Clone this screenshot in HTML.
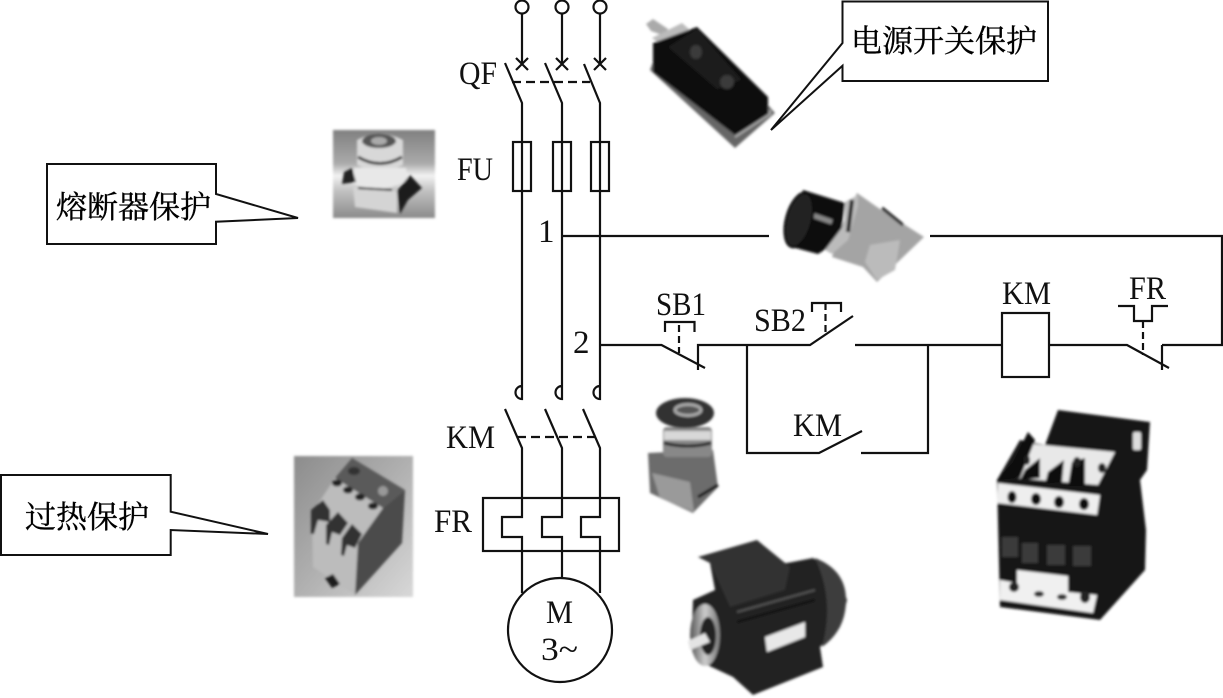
<!DOCTYPE html>
<html><head><meta charset="utf-8"><title>电动机保护电路</title>
<style>
html,body{margin:0;padding:0;background:#fff}
svg{display:block}
text{fill:#111}
.t{font-family:"Liberation Serif",serif;font-size:33px}
.c{font-family:"Liberation Serif","Noto Serif CJK SC",serif;font-size:31px;fill:#000;stroke:#000;stroke-width:.35}
.l{fill:none;stroke:#111;stroke-width:2.2}
.d{fill:none;stroke:#111;stroke-width:2.2;stroke-dasharray:9 5}
.w{fill:#fff;stroke:#111;stroke-width:2.2}
</style></head><body>
<svg width="1223" height="698" viewBox="0 0 1223 698" xmlns="http://www.w3.org/2000/svg">
<defs>
<filter id="b" x="-10%" y="-10%" width="120%" height="120%"><feGaussianBlur stdDeviation="1.2"/></filter>
<linearGradient id="fg" x1="0" y1="0" x2="0" y2="1"><stop offset="0" stop-color="#808080"/><stop offset=".38" stop-color="#aaa"/><stop offset=".52" stop-color="#f2f2f2"/><stop offset=".68" stop-color="#c4c4c4"/><stop offset="1" stop-color="#8a8a8a"/></linearGradient>
<linearGradient id="rg" x1="0" y1="0" x2="1" y2="1"><stop offset="0" stop-color="#8c8c8c"/><stop offset=".5" stop-color="#b0b0b0"/><stop offset="1" stop-color="#d8d8d8"/></linearGradient>
<linearGradient id="cg" x1="0" y1="0" x2="1" y2="0"><stop offset="0" stop-color="#555"/><stop offset=".5" stop-color="#ccc"/><stop offset="1" stop-color="#777"/></linearGradient>
</defs>

<!-- photos -->
<!-- switch -->
<g filter="url(#b)">
<path d="M646 24L653 19L668 29L665 36L651 31Z" fill="#aaa"/>
<path d="M652 38L682 23L690 30L660 44Z" fill="#bbb"/>
<path d="M650 70L735 148L775 113L768 105L735 125L653 62Z" fill="#666"/>
<path d="M653 43L697 27L768 97L768 115L735 135L653 72Z" fill="#111"/>
<path d="M667 47L717 90L743 80L697 28Z" fill="#1f1f1f" stroke="#000"/>
<ellipse cx="696" cy="52" rx="6" ry="7" fill="#3a3a3a"/>
<ellipse cx="727" cy="82" rx="7" ry="7" fill="#3a3a3a"/>
<path d="M735 137L770 114L770 110" fill="none" stroke="#aaa" stroke-width="2"/>
</g>
<!-- fuse -->
<g>
<rect x="333" y="130" width="102" height="88" fill="url(#fg)" filter="url(#b)"/>
<g filter="url(#b)">
<path d="M357 140Q380 128 403 140L403 165Q380 178 357 165Z" fill="#d8d8d8"/>
<ellipse cx="379" cy="141" rx="17" ry="7" fill="#555"/>
<ellipse cx="379" cy="141" rx="8" ry="4" fill="#aaa"/>
<path d="M358 157Q380 170 402 157" stroke="#333" stroke-width="3" fill="none"/>
<path d="M354 168L406 168L408 180Q380 195 354 184Z" fill="#e8e8e8"/>
<path d="M353 186L397 191L397 213L355 207Z" fill="#d4d4d4"/>
<path d="M397 191L410 175L422 188L408 200L400 214Z" fill="#1c1c1c"/>
<path d="M344 172L352 168L356 182L342 184Z" fill="#222"/>
<path d="M358 188L392 190" stroke="#222" stroke-width="2"/>
</g></g>
<!-- rotary button -->
<g filter="url(#b)">
<path d="M857 193L877 207L924 237L900 260L877 282L863 267L832 257L843 223Z" fill="#a4a4a4"/>
<path d="M870 245L900 240L895 270L877 280L865 262Z" fill="#bbb"/>
<path d="M882 208L903 225" stroke="#111" stroke-width="3"/>
<path d="M803 190L845 203L840 240L818 254L788 246Z" fill="#111"/>
<path d="M812 215L832 222" stroke="#888" stroke-width="5"/>
<path d="M845 202L858 195L858 206L848 240L832 254L825 250L844 225Z" fill="#bbb"/>
<path d="M852 200L848 232" stroke="#222" stroke-width="4"/>
<ellipse cx="799" cy="220" rx="13" ry="28" transform="rotate(15 799 220)" fill="#222" stroke="#000" stroke-width="2"/>
</g>
<!-- e-stop -->
<g filter="url(#b)">
<path d="M648 453L713 450L718 487L693 513L650 493Z" fill="#6c6c6c"/>
<path d="M652 473L690 482L694 512L660 498Z" fill="#9a9a9a"/>
<path d="M698 497L718 485" stroke="#111" stroke-width="3"/>
<rect x="663" y="427" width="49" height="30" rx="4" fill="#888"/>
<rect x="664" y="431" width="47" height="9" fill="#d8d8d8"/>
<path d="M664 443Q688 449 711 443" stroke="#222" stroke-width="3" fill="none"/>
<ellipse cx="685" cy="413" rx="29" ry="15" fill="#333"/>
<ellipse cx="688" cy="410" rx="13" ry="5.500" fill="#555" stroke="#aaa" stroke-width="3"/>
</g>
<!-- contactor -->
<g filter="url(#b)">
<path d="M1058 410L1150 422L1147 470L1140 480L1146 530L1145 570L1100 620L1000 607L997 480L1020 440L1045 445Z" fill="#161616"/>
<path d="M1023 443L1115 452L1098 485L1015 478Z" fill="#e8e8e8"/>
<path d="M998 483L1100 495L1097 515L997 503Z" fill="#eee"/>
<ellipse cx="1012" cy="497" rx="4.500" ry="6" fill="#111"/><ellipse cx="1036" cy="499" rx="5" ry="6" fill="#111"/><ellipse cx="1059" cy="502" rx="5" ry="6" fill="#111"/><ellipse cx="1084" cy="504" rx="5" ry="6" fill="#111"/>
<path d="M997 480L1013 462L1028 432L1035 440L1020 478Z" fill="#111"/>
<path d="M1020 480L1025 470L1040 458L1040 478Z" fill="#111"/><path d="M1045 484L1048 472L1064 460L1062 482Z" fill="#111"/><path d="M1068 486L1072 462L1085 458L1085 486Z" fill="#111"/>
<ellipse cx="1027" cy="460" rx="3" ry="5" fill="#222"/><ellipse cx="1077" cy="462" rx="4" ry="5" fill="#222"/><ellipse cx="1102" cy="468" rx="4" ry="5" fill="#222"/>
<rect x="1002" y="537" width="16" height="20" fill="#3a3a3a"/><rect x="1022" y="543" width="16" height="20" fill="#3a3a3a"/><rect x="1047" y="545" width="18" height="20" fill="#3a3a3a"/><rect x="1073" y="546" width="18" height="20" fill="#3a3a3a"/>
<path d="M1000 580L1017 583L1017 570L1068 576L1068 592L1097 595L1093 613L1000 600Z" fill="#f0f0f0"/>
<ellipse cx="1014" cy="587" rx="5" ry="5" fill="#222"/><ellipse cx="1039" cy="594" rx="5" ry="3" fill="#333"/><ellipse cx="1062" cy="597" rx="5" ry="3" fill="#333"/><ellipse cx="1085" cy="597" rx="5" ry="6" fill="#222"/>
<rect x="1133" y="432" width="8" height="18" rx="2" fill="#ddd"/>
</g>
<!-- relay -->
<g>
<rect x="294" y="456" width="119" height="141" fill="url(#rg)" filter="url(#b)"/>
<g filter="url(#b)">
<path d="M312 513L335 478L383 508L358 543L355 595L313 567Z" fill="#bcbcbc"/>
<path d="M352 458L405 490L383 508L335 478Z" fill="#5a5a5a"/>
<path d="M405 490L402 543L355 595L358 543L383 508Z" fill="#4b4b4b"/>
<ellipse cx="354" cy="471" rx="6" ry="4" fill="#333"/><circle cx="383" cy="491" r="5" fill="#999"/>
<ellipse cx="337" cy="483" rx="5" ry="3.500" fill="#222"/><ellipse cx="348" cy="490" rx="5" ry="3.500" fill="#222"/><ellipse cx="360" cy="497" rx="5" ry="3.500" fill="#222"/><ellipse cx="373" cy="506" rx="5" ry="3.500" fill="#222"/>
<path d="M311 510L323 500L330 510L330 522L318 520L314 534L311 534Z" fill="#333"/>
<path d="M326 525L338 512L348 523L340 535L332 532L329 545L326 544Z" fill="#333"/>
<path d="M342 538L352 524L362 534L355 548L347 545L344 556L341 555Z" fill="#333"/>
<path d="M325 578L333 574L340 584L332 588Z" fill="#1a1a1a"/>
</g></g>
<!-- motor -->
<g filter="url(#b)">
<path d="M693 600L715 590L710 563L787 563L813 558L837 573L847 600L840 627L820 647L823 667L753 695L733 677L703 663L692 630Z" fill="#222"/>
<path d="M815 558Q846 570 846 600Q846 630 822 647Q835 600 815 558Z" fill="#3c3c3c"/>
<path d="M698 557L757 540L790 567L785 590L730 607L710 563Z" fill="#333"/>
<path d="M737 612L815 590" stroke="#555" stroke-width="2"/><path d="M737 622L815 600" stroke="#111" stroke-width="2"/>
<ellipse cx="705" cy="635" rx="15" ry="31" fill="url(#cg)"/>
<ellipse cx="708" cy="636" rx="8" ry="19" fill="#222"/>
<path d="M688 641L705 633L710 642L690 650Z" fill="#e4e4e4"/>
<path d="M765 637L805 622L805 637L767 652Z" fill="#e8e8e8"/>
</g>

<!-- power circuit -->
<g>
<circle class="w" cx="522" cy="7" r="6.500"/><circle class="w" cx="562" cy="7" r="6.500"/><circle class="w" cx="600" cy="7" r="6.500"/>
<path class="l" d="M522 13V64M562 13V64M600 13V64"/>
<path class="l" d="M516 58L528 70M528 58L516 70M556 58L568 70M568 58L556 70M594 58L606 70M606 58L594 70"/>
<path class="l" d="M505 63L522 103V399A6.500 6.500 0 0 1 522 386M545 63L562 103V399A6.500 6.500 0 0 1 562 386M584 64L600 103V399A6.500 6.500 0 0 1 600 386"/>
<path class="d" d="M512 82H590"/>
<rect class="l" x="513" y="142" width="18" height="49"/><rect class="l" x="553" y="142" width="18" height="49"/><rect class="l" x="591" y="142" width="18" height="49"/>
<path class="l" d="M505 409L522 448V517H502V537H522V593M545 409L562 448V517H542V537H562V578M583 409L600 448V517H581V537H600V593"/>
<path class="d" d="M517 437H597"/>
<rect class="l" x="483" y="498" width="136" height="53"/>
<circle class="l" cx="560" cy="630" r="52"/>
</g>
<!-- control circuit -->
<path class="l" d="M562 236H769M930 236H1222V345H1162M1162 370V345M1169 368L1127 345H1049M600 345H661.500L705 368M698 370V345H810L853 316M855 345H1002M747 345V453H819L862 431M861 453H928V345"/>
<rect class="l" x="1002" y="313" width="47" height="64"/>
<path class="l" d="M665 332V322H694.500V332M812 312V303H841V312M1118 306H1134V321H1152V306H1168"/>
<path class="l" stroke-dasharray="7 4" d="M679 325V353M825.500 303V333M1143 321V355"/>

<!-- labels -->
<text class="t" x="459" y="84" textLength="38" lengthAdjust="spacingAndGlyphs">QF</text>
<text class="t" x="457" y="180" textLength="36" lengthAdjust="spacingAndGlyphs">FU</text>
<text class="t" x="538" y="242">1</text>
<text class="t" x="573" y="353">2</text>
<text class="t" x="656" y="315" textLength="50" lengthAdjust="spacingAndGlyphs">SB1</text>
<text class="t" x="754" y="331" textLength="52" lengthAdjust="spacingAndGlyphs">SB2</text>
<text class="t" x="1002" y="304" textLength="49" lengthAdjust="spacingAndGlyphs">KM</text>
<text class="t" x="1129" y="299" textLength="37" lengthAdjust="spacingAndGlyphs">FR</text>
<text class="t" x="793" y="436" textLength="49" lengthAdjust="spacingAndGlyphs">KM</text>
<text class="t" x="446" y="448" textLength="49" lengthAdjust="spacingAndGlyphs">KM</text>
<text class="t" x="434" y="532" textLength="38" lengthAdjust="spacingAndGlyphs">FR</text>
<text class="t" x="546" y="623" textLength="27" lengthAdjust="spacingAndGlyphs">M</text>
<text class="t" x="541" y="660" textLength="37" lengthAdjust="spacingAndGlyphs">3~</text>

<!-- callouts -->
<path d="M842.500 1.500H1048V81H842.500V65.700L771 130L842.500 43Z" fill="#fff" stroke="#111" stroke-width="2"/>
<text class="c" x="851" y="52">电源开关保护</text>
<path d="M47 164H216V194L298 218L216 221.700V244H47Z" fill="#fff" stroke="#111" stroke-width="2"/>
<text class="c" x="56" y="218">熔断器保护</text>
<path d="M1 475H170.700V511.700L268 534L170.700 530V555H1Z" fill="#fff" stroke="#111" stroke-width="2"/>
<text class="c" x="25" y="528">过热保护</text>
</svg>
</body></html>
